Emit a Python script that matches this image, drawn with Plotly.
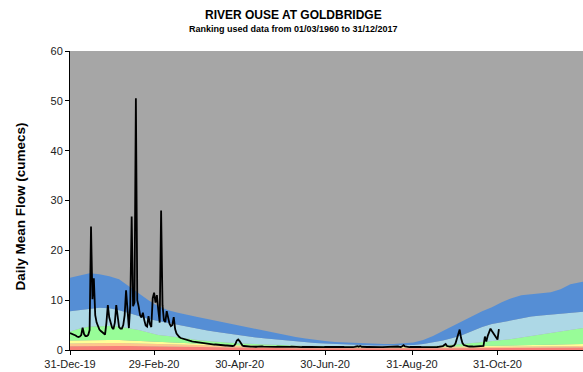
import pandas as pd
import plotly.graph_objects as go

# Percentile bands of daily mean flow (upper edge of each band), sampled weekly
band_red = [0.75,0.78,0.8,0.8,0.8,0.8,0.78,0.75,0.7,0.67,0.64,0.6,0.57,0.54,0.52,0.5,0.48,0.46,0.44,0.42,0.4,0.39,0.38,0.37,0.36,0.35,0.34,0.33,0.33,0.32,0.32,0.31,0.31,0.31,0.32,0.32,0.33,0.34,0.35,0.36,0.37,0.38,0.39,0.4,0.41,0.42,0.43,0.44,0.45,0.46,0.47,0.48,0.5,0.5]
band_orange = [1.3,1.35,1.4,1.4,1.4,1.4,1.35,1.3,1.2,1.15,1.1,1.0,0.95,0.9,0.85,0.8,0.76,0.72,0.68,0.65,0.62,0.6,0.58,0.56,0.54,0.52,0.5,0.49,0.48,0.47,0.46,0.45,0.45,0.45,0.46,0.47,0.48,0.5,0.52,0.54,0.56,0.58,0.6,0.62,0.64,0.66,0.68,0.7,0.72,0.74,0.76,0.78,0.8,0.8]
band_yellow = [1.9,1.95,2.0,2.0,2.0,2.0,1.9,1.8,1.7,1.6,1.5,1.4,1.3,1.22,1.15,1.08,1.0,0.95,0.9,0.86,0.82,0.78,0.75,0.72,0.7,0.67,0.65,0.63,0.61,0.6,0.58,0.57,0.56,0.56,0.57,0.58,0.6,0.62,0.65,0.68,0.72,0.76,0.8,0.84,0.88,0.92,0.96,1.0,1.04,1.08,1.12,1.16,1.2,1.2]
band_green = [3.7,4.3,4.7,4.8,4.8,4.7,4.4,4.0,3.5,3.0,2.8,2.5,2.2,2.0,1.8,1.6,1.5,1.35,1.25,1.15,1.05,1.0,0.95,0.9,0.85,0.8,0.78,0.75,0.72,0.7,0.68,0.66,0.65,0.65,0.66,0.68,0.72,0.8,0.9,1.0,1.2,1.4,1.6,1.75,1.9,2.2,2.5,2.8,3.1,3.4,3.7,4.0,4.3,4.4]
band_lightblue = [7.8,8.0,8.3,8.5,8.4,8.0,7.4,6.8,6.2,5.8,5.4,5.0,4.6,4.2,3.9,3.6,3.3,3.0,2.7,2.5,2.3,2.1,1.9,1.7,1.5,1.4,1.3,1.2,1.1,1.0,0.95,0.9,0.9,0.9,0.95,1.0,1.2,1.5,1.9,2.4,3.0,3.8,4.6,5.2,5.6,6.0,6.4,6.7,6.9,7.1,7.3,7.5,7.7,7.7]
band_blue = [14.5,15.0,15.4,15.2,14.8,14.2,12.8,11.5,10.0,8.8,8.0,7.5,7.0,6.6,6.2,5.8,5.4,5.0,4.6,4.2,3.8,3.3,2.9,2.6,2.3,2.0,1.8,1.6,1.5,1.4,1.3,1.25,1.2,1.2,1.3,1.5,2.0,2.8,3.8,4.8,5.8,6.8,7.8,8.6,9.6,10.4,11.0,11.2,11.4,11.6,12.2,13.2,13.6,13.7]

# Daily mean flow 2020 (cumecs), from 31-Dec-19
flow = [
    3.4,3.3,3.1,3.0,2.9,2.7,2.6,2.7,3.0,4.5,
    3.2,2.8,2.8,3.0,4.0,24.8,10.2,14.4,7.0,5.5,
    4.6,4.1,3.8,3.5,3.3,3.1,5.5,9.0,6.5,5.2,
    4.5,4.2,5.5,9.0,6.0,4.6,4.3,4.3,5.0,7.0,
    12.0,7.5,4.4,9.0,26.8,8.8,9.5,50.5,10.0,8.7,
    7.0,6.5,7.5,6.0,4.9,4.7,6.8,5.2,4.6,10.4,
    11.5,9.5,11.0,8.0,5.5,28.0,9.0,6.0,5.6,7.8,
    6.5,5.3,4.8,5.0,6.6,4.2,3.3,2.9,2.6,2.4,
    2.3,2.2,2.1,2.0,1.95,1.9,1.8,1.75,1.7,1.65,
    1.6,1.55,1.5,1.45,1.45,1.4,1.35,1.3,1.3,1.25,
    1.2,1.2,1.15,1.1,1.1,1.05,1.0,1.0,0.95,1.0,
    0.95,0.9,0.9,0.85,0.85,0.8,0.8,0.85,1.2,1.9,
    2.1,1.8,1.2,0.9,0.8,0.75,0.7,0.7,0.72,0.68,
    0.66,0.7,0.68,0.65,0.66,0.7,0.75,0.7,0.66,0.64,
    0.65,0.63,0.66,0.7,0.68,0.64,0.62,0.63,0.66,0.64,
    0.62,0.6,0.62,0.65,0.63,0.6,0.6,0.62,0.66,0.63,
    0.6,0.58,0.6,0.62,0.6,0.58,0.6,0.63,0.61,0.58,
    0.57,0.6,0.62,0.6,0.58,0.57,0.6,0.64,0.62,0.59,
    0.58,0.57,0.6,0.62,0.6,0.58,0.56,0.58,0.6,0.62,
    0.6,0.57,0.56,0.58,0.62,0.6,0.58,0.56,0.57,0.6,
    0.62,0.6,0.58,0.62,0.7,0.75,0.66,0.8,0.65,0.6,
    0.58,0.57,0.6,0.62,0.6,0.58,0.57,0.6,0.63,0.6,
    0.58,0.57,0.56,0.58,0.6,0.62,0.6,0.58,0.57,0.56,
    0.58,0.6,0.62,0.66,0.7,0.62,0.6,0.75,0.95,0.7,
    0.62,0.6,0.58,0.6,0.62,0.6,0.58,0.57,0.58,0.6,
    0.6,0.58,0.57,0.58,0.6,0.62,0.6,0.58,0.6,0.62,
    0.6,0.58,0.6,0.62,0.65,0.7,0.75,1.0,1.2,0.8,
    0.7,0.68,0.7,0.75,0.9,1.3,2.2,3.2,4.1,2.4,
    1.4,1.0,0.85,0.78,0.72,0.7,0.75,0.7,0.68,0.7,
    0.72,0.7,0.68,0.7,0.72,0.8,2.7,1.7,2.8,3.8,
    4.3,3.8,3.4,3.0,2.5,2.1,4.2,
]

tick_dates = ["2019-12-31", "2020-02-29", "2020-04-30", "2020-06-30", "2020-08-31", "2020-10-31", "2020-12-31"]
tick_labels = ["31-Dec-19", "29-Feb-20", "30-Apr-20", "30-Jun-20", "31-Aug-20", "31-Oct-20", ""]

band_dates = list(pd.date_range("2019-12-31", periods=53, freq="7D")) + [pd.Timestamp("2020-12-31")]
flow_dates = pd.date_range("2019-12-31", periods=len(flow), freq="D")

FONT = "Liberation Sans, Arial, sans-serif"
GRAY = "rgb(166,166,166)"

bands = [
    (band_red, "rgb(248,128,120)"),
    (band_orange, "rgb(255,198,140)"),
    (band_yellow, "rgb(255,255,150)"),
    (band_green, "rgb(152,252,152)"),
    (band_lightblue, "rgb(173,216,230)"),
    (band_blue, "rgb(85,142,213)"),
]

fig = go.Figure()
for i, (vals, col) in enumerate(bands):
    fig.add_trace(go.Scatter(
        x=band_dates, y=vals, mode="lines", line=dict(width=0),
        fill="tozeroy" if i == 0 else "tonexty", fillcolor=col,
        hoverinfo="skip", showlegend=False,
    ))

fig.add_trace(go.Scatter(
    x=flow_dates, y=flow, mode="lines",
    line=dict(color="black", width=1.8), showlegend=False,
))

fig.update_layout(
    width=583, height=372,
    margin=dict(l=70, r=0, t=51, b=22),
    paper_bgcolor="white", plot_bgcolor=GRAY,
    font=dict(family=FONT, size=11, color="#222"),
    showlegend=False,
    annotations=[
        dict(text="<b>RIVER OUSE AT GOLDBRIDGE</b>", xref="paper", yref="paper",
             x=0.4366, y=1.1204, xanchor="center", yanchor="middle", showarrow=False,
             font=dict(family=FONT, size=12, color="black")),
        dict(text="<b>Ranking used data from 01/03/1960 to 31/12/2017</b>", xref="paper", yref="paper",
             x=0.4366, y=1.0736, xanchor="center", yanchor="middle", showarrow=False,
             font=dict(family=FONT, size=9, color="black")),
        dict(text="<b>Daily Mean Flow (cumecs)</b>", xref="paper", yref="paper",
             x=-0.0975, y=0.48, xanchor="center", yanchor="middle", showarrow=False,
             textangle=-90, font=dict(family=FONT, size=13.5, color="black")),
    ],
)

fig.update_xaxes(
    type="date", range=["2019-12-31", "2020-12-31"],
    tickvals=tick_dates, ticktext=tick_labels,
    showgrid=False, zeroline=False,
    showline=True, linecolor="black", linewidth=1,
    ticks="outside", ticklen=4, tickcolor="black",
    tickfont=dict(family=FONT, size=11, color="#222"),
)
fig.update_yaxes(
    range=[0, 60], tickvals=[0, 10, 20, 30, 40, 50, 60],
    showgrid=False, zeroline=False,
    showline=True, linecolor="black", linewidth=1,
    ticks="outside", ticklen=4, tickcolor="black",
    tickfont=dict(family=FONT, size=11, color="#222"),
)

fig.write_html("out.html")
